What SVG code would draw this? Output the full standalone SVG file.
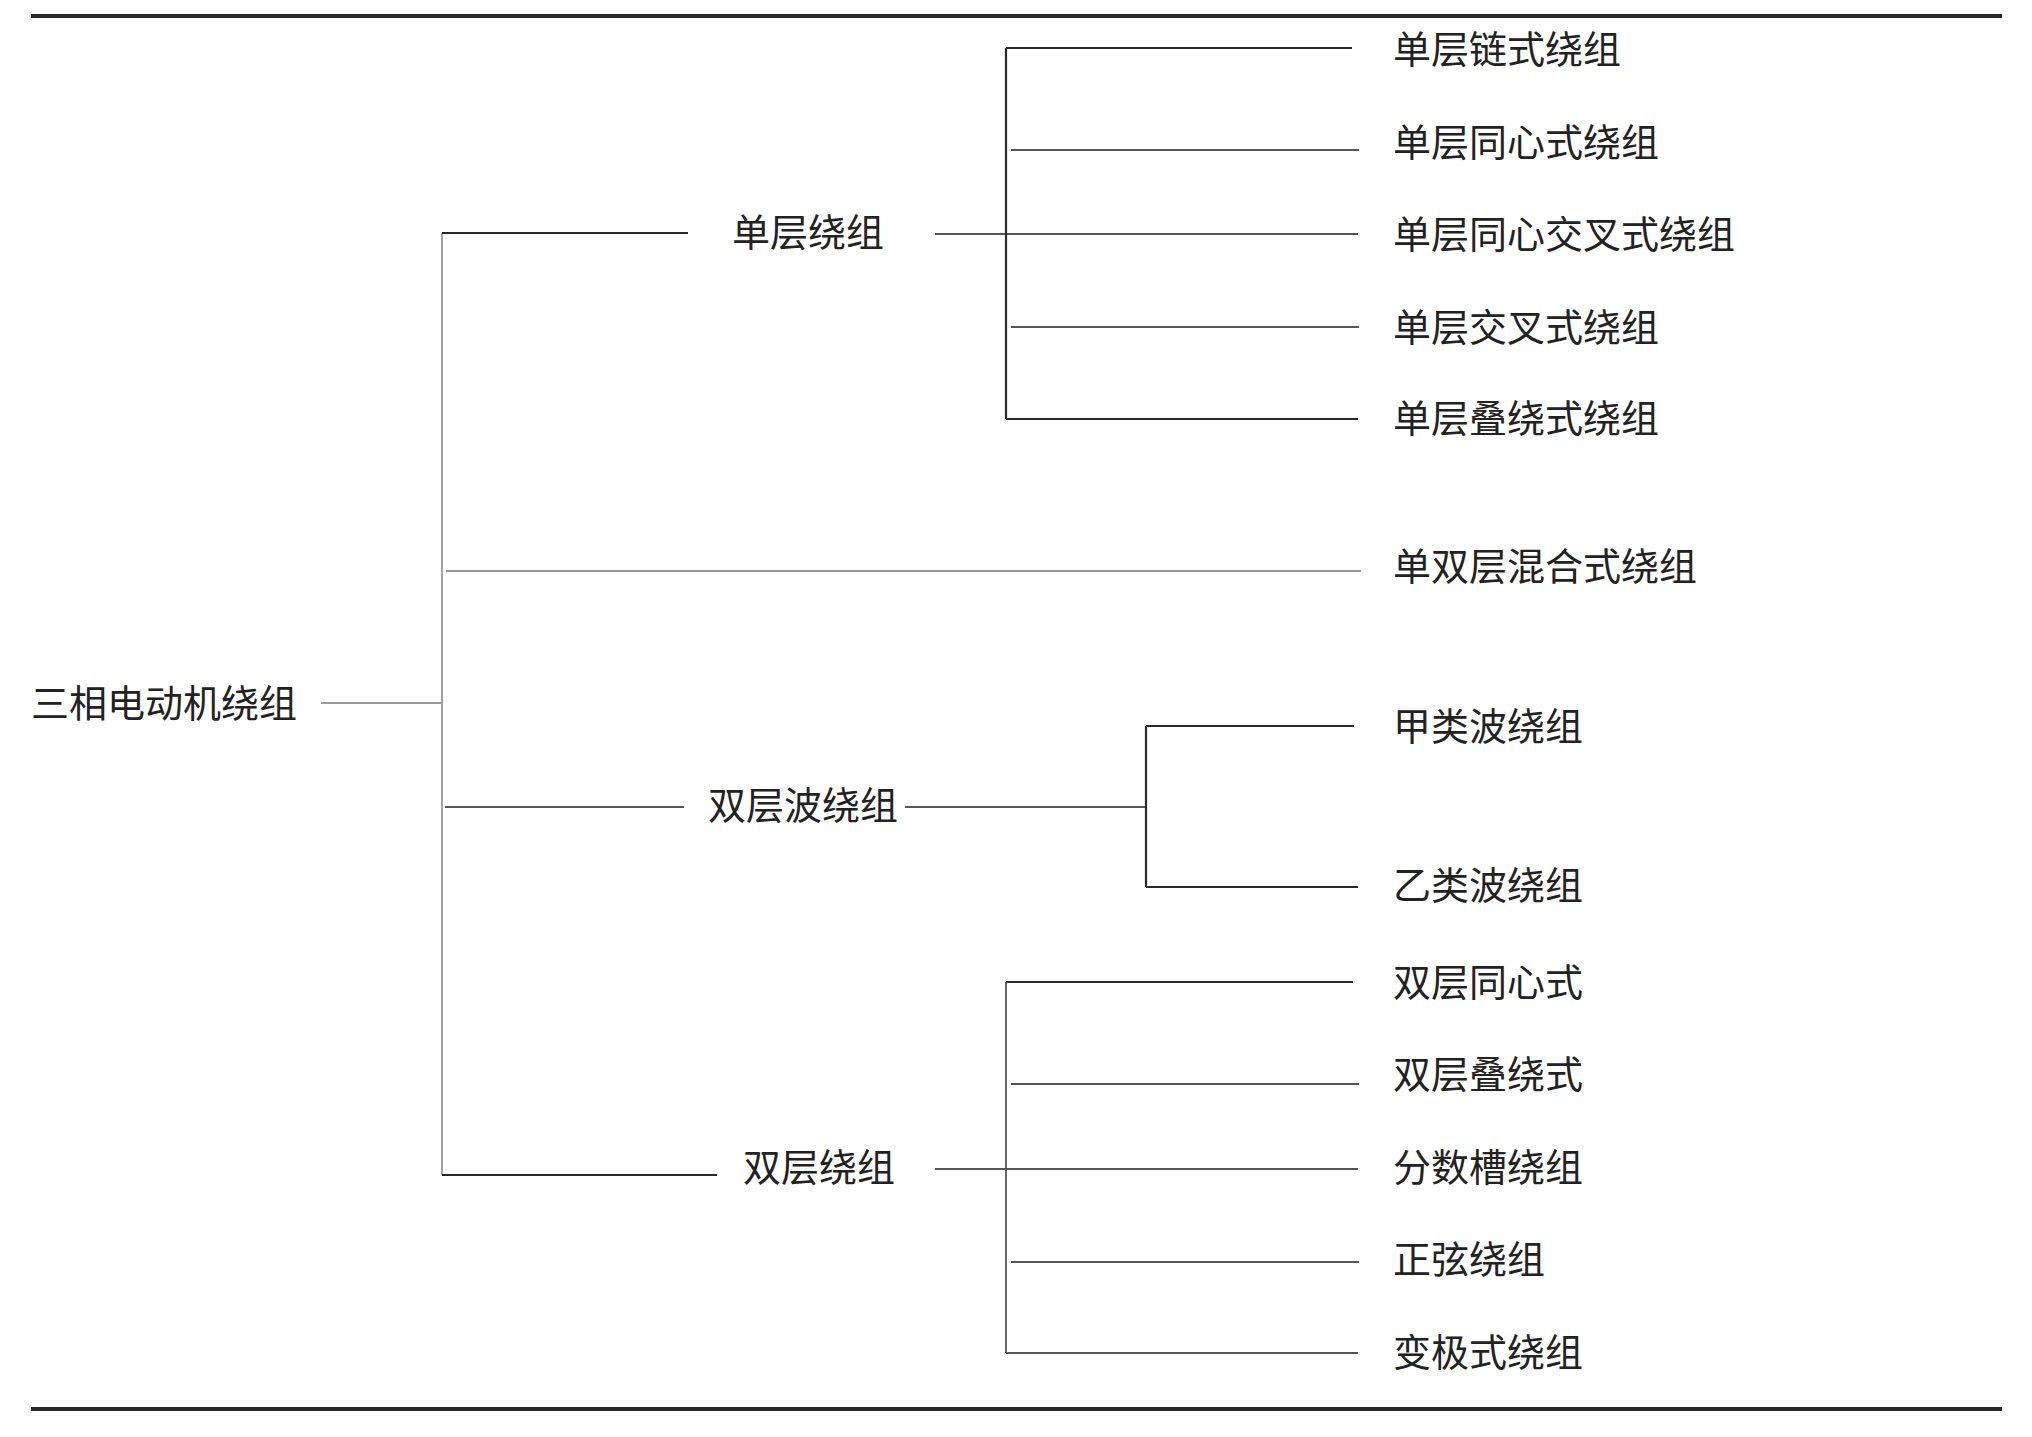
<svg xmlns="http://www.w3.org/2000/svg" width="2032" height="1437" viewBox="0 0 2032 1437">
<style>
text{font-family:"Noto Sans CJK SC","Noto Sans CJK JP",sans-serif;font-size:38px;fill:#222;}
.d{stroke:#2a2a2a;stroke-width:2.2;fill:none;}
.m{stroke:#555;stroke-width:1.8;fill:none;}
.g{stroke:#999;stroke-width:1.8;fill:none;}
.rule{stroke:#2a2a2a;stroke-width:4;}
</style>
<rect width="2032" height="1437" fill="#fff"/>
<line class="rule" x1="31" y1="16" x2="2002" y2="16"/>
<line class="rule" x1="31" y1="1409" x2="2002" y2="1409"/>
<g id="connectors">
<line class="g" x1="321" y1="703" x2="442" y2="703"/>
<line class="g" x1="442" y1="233" x2="442" y2="1175"/>
<line class="d" x1="442" y1="233" x2="688" y2="233"/>
<line class="m" x1="935" y1="234" x2="1358" y2="234"/>
<line class="d" x1="1006" y1="48" x2="1006" y2="419"/>
<line class="d" x1="1006" y1="48" x2="1352" y2="48"/>
<line class="m" x1="1011" y1="150" x2="1359" y2="150"/>
<line class="m" x1="1011" y1="327" x2="1359" y2="327"/>
<line class="d" x1="1006" y1="419" x2="1358" y2="419"/>
<line class="g" x1="446" y1="571" x2="1361" y2="571"/>
<line class="m" x1="445" y1="807" x2="684" y2="807"/>
<line class="m" x1="905" y1="807" x2="1146" y2="807"/>
<line class="d" x1="1146" y1="726" x2="1146" y2="887"/>
<line class="d" x1="1146" y1="726" x2="1354" y2="726"/>
<line class="d" x1="1146" y1="887" x2="1358" y2="887"/>
<line class="d" x1="442" y1="1175" x2="717" y2="1175"/>
<line class="m" x1="935" y1="1169" x2="1358" y2="1169"/>
<line class="m" x1="1006" y1="982" x2="1006" y2="1353"/>
<line class="d" x1="1006" y1="982" x2="1353" y2="982"/>
<line class="m" x1="1011" y1="1084" x2="1359" y2="1084"/>
<line class="m" x1="1011" y1="1262" x2="1359" y2="1262"/>
<line class="m" x1="1006" y1="1353" x2="1358" y2="1353"/>
</g>
<g id="root"><text x="31" y="717">三相电动机绕组</text></g>
<g id="n1"><text x="732" y="246">单层绕组</text></g>
<g id="n1a"><text x="1393" y="63">单层链式绕组</text></g>
<g id="n1b"><text x="1393" y="156">单层同心式绕组</text></g>
<g id="n1c"><text x="1393" y="248">单层同心交叉式绕组</text></g>
<g id="n1d"><text x="1393" y="341">单层交叉式绕组</text></g>
<g id="n1e"><text x="1393" y="432">单层叠绕式绕组</text></g>
<g id="n2"><text x="1393" y="580">单双层混合式绕组</text></g>
<g id="n3"><text x="708" y="819">双层波绕组</text></g>
<g id="n3a"><text x="1393" y="740">甲类波绕组</text></g>
<g id="n3b"><text x="1393" y="899">乙类波绕组</text></g>
<g id="n4"><text x="743" y="1181">双层绕组</text></g>
<g id="n4a"><text x="1393" y="996">双层同心式</text></g>
<g id="n4b"><text x="1393" y="1088">双层叠绕式</text></g>
<g id="n4c"><text x="1393" y="1181">分数槽绕组</text></g>
<g id="n4d"><text x="1393" y="1273">正弦绕组</text></g>
<g id="n4e"><text x="1393" y="1366">变极式绕组</text></g>
</svg>
